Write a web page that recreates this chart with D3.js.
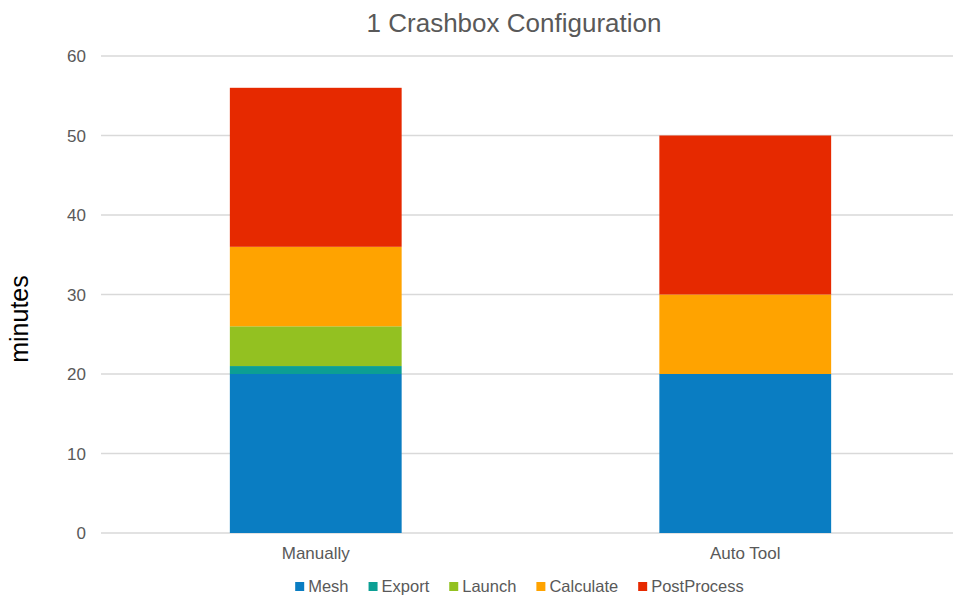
<!DOCTYPE html>
<html>
<head>
<meta charset="utf-8">
<script src="https://cdn.jsdelivr.net/npm/d3@7"></script>
<style>
  body { margin: 0; background: #fff; }
  text { font-family: "Liberation Sans", Arial, sans-serif; }
</style>
</head>
<body>
<div id="gr"></div>
<script>
var categories = ["Manually", "Auto Tool"];
var seriesNames = ["Mesh", "Export", "Launch", "Calculate", "PostProcess"];
var mesh = [20, 20];
var exportVals = [1, 0];
var launch = [5, 0];
var calculate = [10, 10];
var postProcess = [20, 20];
var yTicks = [0, 10, 20, 30, 40, 50, 60];
var colors = ["#0a7dc2", "#0c9f94", "#93c121", "#ffa300", "#e62900"];

var width = 953, height = 599;
var plotLeft = 101, plotRight = 960, plotTop = 56, plotBottom = 533;

var svg = d3.select("#gr").append("svg")
  .attr("width", width)
  .attr("height", height);

var xScale = d3.scaleBand().domain(categories).range([plotLeft, plotRight]);
var yScale = d3.scaleLinear().domain([0, 60]).range([plotBottom, plotTop]);
var barW = xScale.bandwidth() * 0.4;

// table for the stack
var rows = categories.map(function (c, i) {
  return { cat: c, Mesh: mesh[i], Export: exportVals[i], Launch: launch[i],
    Calculate: calculate[i], PostProcess: postProcess[i] };
});
var stacked = d3.stack().keys(seriesNames)(rows);

// gridlines
svg.append("g").selectAll("line")
  .data(yTicks).enter().append("line")
  .attr("x1", plotLeft).attr("x2", plotRight)
  .attr("y1", function (d) { return yScale(d); })
  .attr("y2", function (d) { return yScale(d); })
  .attr("stroke", "#d9d9d9")
  .attr("stroke-width", 1.3);

// y tick labels
svg.append("g").selectAll("text")
  .data(yTicks).enter().append("text")
  .attr("x", 86)
  .attr("y", function (d) { return yScale(d) + 6; })
  .attr("text-anchor", "end")
  .attr("fill", "#595959")
  .style("font-size", "17px")
  .text(function (d) { return d; });

// bars
svg.append("g").selectAll("g")
  .data(stacked).enter().append("g")
  .attr("fill", function (d, i) { return colors[i]; })
  .selectAll("rect")
  .data(function (d) { return d; }).enter().append("rect")
  .attr("x", function (d) { return xScale(d.data.cat) + (xScale.bandwidth() - barW) / 2; })
  .attr("width", barW)
  .attr("y", function (d) { return yScale(d[1]); })
  .attr("height", function (d) { return yScale(d[0]) - yScale(d[1]); });

// category labels
svg.append("g").selectAll("text")
  .data(categories).enter().append("text")
  .attr("x", function (d) { return xScale(d) + xScale.bandwidth() / 2; })
  .attr("y", 559)
  .attr("text-anchor", "middle")
  .attr("fill", "#595959")
  .style("font-size", "17px")
  .text(function (d) { return d; });

// title
svg.append("text")
  .attr("x", 514)
  .attr("y", 32)
  .attr("text-anchor", "middle")
  .attr("fill", "#595959")
  .style("font-size", "26px")
  .text("1 Crashbox Configuration");

// y axis title
svg.append("text")
  .attr("transform", "translate(28,319) rotate(-90)")
  .attr("text-anchor", "middle")
  .attr("fill", "#000")
  .style("font-size", "25px")
  .text("minutes");

// legend
var legend = svg.append("g");
var items = legend.selectAll("g")
  .data(seriesNames).enter().append("g");
items.append("rect")
  .attr("width", 9).attr("height", 9)
  .attr("y", 582)
  .attr("fill", function (d, i) { return colors[i]; });
items.append("text")
  .attr("x", 13)
  .attr("y", 592)
  .attr("fill", "#595959")
  .style("font-size", "16.5px")
  .text(function (d) { return d; });

var pos = 0;
items.each(function () {
  var g = d3.select(this);
  g.attr("transform", "translate(" + pos + ",0)");
  pos += 13 + g.select("text").node().getComputedTextLength() + 20;
});
var total = pos - 20;
legend.attr("transform", "translate(" + (519.5 - total / 2) + ",0)");
</script>
</body>
</html>
